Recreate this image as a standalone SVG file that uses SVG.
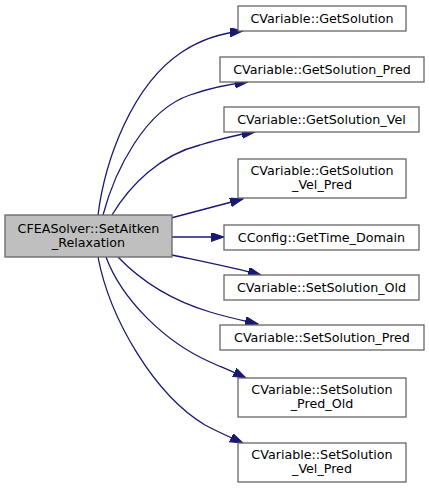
<svg xmlns="http://www.w3.org/2000/svg" width="429" height="489" viewBox="0 0 429 489">
<style>
.n rect{fill:#fff;stroke:#666;stroke-width:1.3}
.m rect{fill:#bfbfbf;stroke:#666;stroke-width:1.3}
text{font-family:"DejaVu Sans",sans-serif;font-size:12.7px;fill:#000;text-anchor:middle}
.e path{fill:none;stroke:#191970;stroke-width:1.3}
</style>
<defs>
<marker id="a" markerUnits="userSpaceOnUse" markerWidth="14" markerHeight="10" refX="13" refY="4.5" orient="auto">
<polygon points="0,0 13,4.5 0,9" fill="#191970" stroke="#191970"/>
</marker>
</defs>
<g class="e">
<path marker-end="url(#a)" d="M98,215 C105,160 132,85 182,52 C200,40 222,33 243,31"/>
<path marker-end="url(#a)" d="M103,215 C115,170 145,110 190,95 C210,88 230,84 248,82"/>
<path marker-end="url(#a)" d="M112,215 C130,185 160,155 200,145 C220,139 240,134 255,132"/>
<path marker-end="url(#a)" d="M171,218 L243,199"/>
<path marker-end="url(#a)" d="M172,237 L224,237"/>
<path marker-end="url(#a)" d="M172,255 C200,261 235,268 261,275"/>
<path marker-end="url(#a)" d="M118,257 C140,280 170,300 210,312 C230,318 245,321 258,324"/>
<path marker-end="url(#a)" d="M106,257 C122,300 165,342 210,362 C226,369 238,374 246,378"/>
<path marker-end="url(#a)" d="M98,257 C110,320 155,395 205,425 C220,433 232,438 243,443"/>
</g>
<g id="main" class="m"><rect x="5" y="215" width="167" height="42"/><text x="88.5" y="233">CFEASolver::SetAitken</text><text x="88.5" y="247">_Relaxation</text></g>
<g id="n1" class="n"><rect x="238" y="6" width="168" height="25"/><text x="322" y="23">CVariable::GetSolution</text></g>
<g id="n2" class="n"><rect x="220" y="57" width="204" height="25"/><text x="322" y="74">CVariable::GetSolution_Pred</text></g>
<g id="n3" class="n"><rect x="224" y="107" width="195" height="25"/><text x="321.5" y="124">CVariable::GetSolution_Vel</text></g>
<g id="n4" class="n"><rect x="238" y="159" width="168" height="39"/><text x="322" y="175">CVariable::GetSolution</text><text x="322" y="189">_Vel_Pred</text></g>
<g id="n5" class="n"><rect x="224" y="225" width="195" height="25"/><text x="321.5" y="242">CConfig::GetTime_Domain</text></g>
<g id="n6" class="n"><rect x="224" y="275" width="195" height="25"/><text x="321.5" y="292">CVariable::SetSolution_Old</text></g>
<g id="n7" class="n"><rect x="220" y="325" width="204" height="25"/><text x="322" y="342">CVariable::SetSolution_Pred</text></g>
<g id="n8" class="n"><rect x="238" y="378" width="168" height="39"/><text x="322" y="394">CVariable::SetSolution</text><text x="322" y="408">_Pred_Old</text></g>
<g id="n9" class="n"><rect x="238" y="443" width="168" height="39"/><text x="322" y="459">CVariable::SetSolution</text><text x="322" y="473">_Vel_Pred</text></g>
</svg>
